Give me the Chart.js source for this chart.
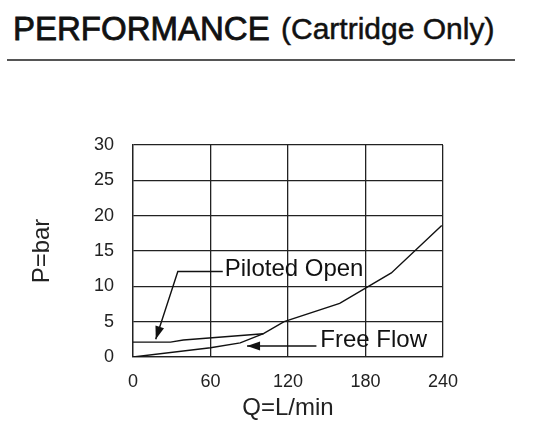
<!DOCTYPE html>
<html>
<head>
    <title>Performance</title>
    <meta charset="utf-8">
    <style>
        body{ margin:0; background:#fff; font-family:"Liberation Sans", Arial, sans-serif;}
        .head{position:absolute; top:12px; line-height:33px; color:#111; white-space:nowrap;}
        .big{left:13px; font-size:33px; -webkit-text-stroke:0.8px #111;}
        .small{left:281px; font-size:30px; -webkit-text-stroke:0.5px #111;}
        .rule{position:absolute; left:7px; top:59px; width:508px; height:2px; background:#555;}
        #myChart{position:absolute; left:0; top:0;}
    </style>
    <script src="https://cdn.jsdelivr.net/npm/chart.js@4/dist/chart.umd.min.js"></script>
</head>
<body>
    <div class="head big">PERFORMANCE</div>
    <div class="head small">(Cartridge Only)</div>
    <div class="rule"></div>
    <canvas id="myChart" width="534" height="438"></canvas>

    <script>
        // values, Q in L/min, P in bar
        var freeQ = [0, 60, 83, 101, 117, 160, 200, 239];
        var freeP = [0, 1.3, 2.0, 3.3, 5.0, 7.6, 11.9, 18.6];
        var pilotQ = [0, 29, 39, 101];
        var pilotP = [2.1, 2.1, 2.4, 3.3];
        var xTicks = [0, 60, 120, 180, 240];
        var yTicks = [0, 5, 10, 15, 20, 25, 30];

        function pts(qs, ps){
            var out = [];
            for (var i in qs) out.push({x: qs[i], y: ps[i]});
            return out;
        }

        // labels with leader lines, anchored in data units (last point = arrow tip)
        var notes = [
            {text: 'Piloted Open', at: [71, 12.45], path: [[69.5, 12.1], [34.7, 12.1], [17.6, 2.5]]},
            {text: 'Free Flow', at: [145, 2.4], path: [[142, 1.56], [88.3, 1.56]]}
        ];

        const notePlugin = {
            id: 'notes',
            afterDatasetsDraw(chart){
                const ctx = chart.ctx;
                const xs = chart.scales.x, ys = chart.scales.y;
                ctx.save();
                ctx.strokeStyle = '#111';
                ctx.fillStyle = '#111';
                ctx.lineWidth = 1.4;
                notes.forEach(function(n){
                    var p = n.path.map(function(d){ return [xs.getPixelForValue(d[0]), ys.getPixelForValue(d[1])]; });
                    ctx.beginPath();
                    ctx.moveTo(p[0][0], p[0][1]);
                    for (var i = 1; i < p.length; i++) ctx.lineTo(p[i][0], p[i][1]);
                    ctx.stroke();
                    // arrow head
                    var a = p[p.length - 2], b = p[p.length - 1];
                    var ang = Math.atan2(b[1] - a[1], b[0] - a[0]);
                    var len = 13, hw = 4.5;
                    ctx.beginPath();
                    ctx.moveTo(b[0], b[1]);
                    ctx.lineTo(b[0] - len * Math.cos(ang) + hw * Math.sin(ang), b[1] - len * Math.sin(ang) - hw * Math.cos(ang));
                    ctx.lineTo(b[0] - len * Math.cos(ang) - hw * Math.sin(ang), b[1] - len * Math.sin(ang) + hw * Math.cos(ang));
                    ctx.closePath();
                    ctx.fill();
                    ctx.font = '24px "Liberation Sans", Arial, sans-serif';
                    ctx.textAlign = 'left';
                    ctx.textBaseline = 'middle';
                    ctx.fillText(n.text, xs.getPixelForValue(n.at[0]), ys.getPixelForValue(n.at[1]));
                });
                ctx.restore();
            }
        };

        const lineStyle = {borderColor: '#111', backgroundColor: '#111', borderWidth: 1.4, pointRadius: 0, tension: 0, fill: false};

        const config = {
            type: 'line',
            data: {
                datasets: [
                    Object.assign({label: 'Free Flow', data: pts(freeQ, freeP)}, lineStyle),
                    Object.assign({label: 'Piloted Open', data: pts(pilotQ, pilotP)}, lineStyle)
                ]
            },
            options: {
                responsive: false,
                devicePixelRatio: 1,
                animation: false,
                layout: {padding: {left: 0, top: 145, right: 91, bottom: 0}},
                plugins: {legend: {display: false}, tooltip: {enabled: false}},
                scales: {
                    x: {
                        type: 'linear', min: 0, max: 240,
                        afterBuildTicks: function(s){ s.ticks = xTicks.map(function(v){ return {value: v}; }); },
                        afterFit: function(s){ s.height = 81; },
                        grid: {color: '#222', lineWidth: 1.3, drawTicks: false},
                        border: {color: '#222', width: 1.3},
                        ticks: {color: '#222', padding: 14, maxRotation: 0, font: {family: '"Liberation Sans", Arial', size: 18}},
                        title: {display: true, text: 'Q=L/min', color: '#222', padding: {top: 0, bottom: 15.6},
                                font: {family: '"Liberation Sans", Arial', size: 24}}
                    },
                    y: {
                        min: 0, max: 30,
                        afterBuildTicks: function(s){ s.ticks = yTicks.map(function(v){ return {value: v}; }); },
                        afterFit: function(s){ s.width = 133; },
                        grid: {color: '#222', lineWidth: 1.3, drawTicks: false},
                        border: {color: '#222', width: 1.3},
                        ticks: {color: '#222', padding: 19, font: {family: '"Liberation Sans", Arial', size: 18}},
                        title: {display: true, text: 'P=bar', color: '#222', padding: {top: 27.6, bottom: 0},
                                font: {family: '"Liberation Sans", Arial', size: 24}}
                    }
                }
            },
            plugins: [notePlugin]
        };

        var myChart = new Chart(document.getElementById('myChart'), config);
    </script>
</body>
</html>
